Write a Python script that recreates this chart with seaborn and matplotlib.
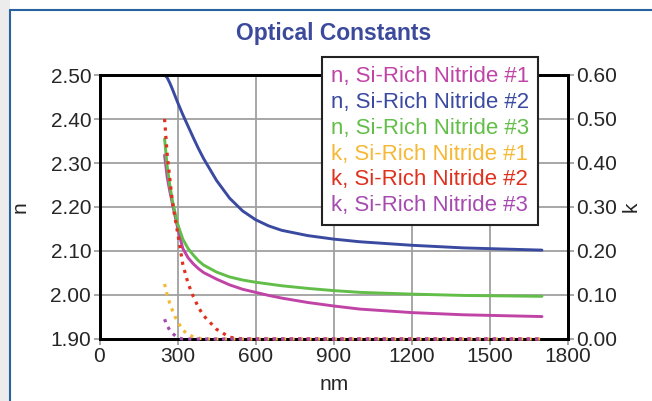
"""
Optical constants (n, k) of Si-rich nitride films
"""

import matplotlib.pyplot as plt
from matplotlib.lines import Line2D
from matplotlib.patches import Rectangle
import seaborn as sns

sns.set_style('ticks')
plt.rcParams['font.family'] = ['Liberation Sans', 'DejaVu Sans']

# wavelength (nm)
wl = [250, 260, 270, 280, 290, 300, 320, 340, 360, 380, 400, 450, 500, 550,
      600, 650, 700, 800, 900, 1000, 1200, 1400, 1700]

# refractive index n
n1 = [2.318, 2.268, 2.236, 2.208, 2.180, 2.153, 2.106, 2.085, 2.071, 2.060, 2.051,
      2.036, 2.023, 2.013, 2.006, 1.999, 1.993, 1.983, 1.975, 1.968, 1.960, 1.955, 1.951]
n2 = [2.500, 2.494, 2.482, 2.468, 2.453, 2.438, 2.410, 2.384, 2.358, 2.333, 2.310,
      2.260, 2.220, 2.191, 2.171, 2.157, 2.147, 2.135, 2.127, 2.121, 2.113, 2.107, 2.102]
n3 = [2.355, 2.293, 2.250, 2.215, 2.188, 2.162, 2.127, 2.106, 2.091, 2.078, 2.068,
      2.052, 2.041, 2.034, 2.029, 2.025, 2.021, 2.015, 2.010, 2.006, 2.002, 1.999, 1.997]

# extinction coefficient k
k1 = [0.125, 0.100, 0.081, 0.065, 0.051, 0.040, 0.020, 0.011, 0.005, 0.002, 0.0,
      0.0, 0.0, 0.0, 0.0, 0.0, 0.0, 0.0, 0.0, 0.0, 0.0, 0.0, 0.0]
k2 = [0.500, 0.420, 0.365, 0.312, 0.276, 0.242, 0.170, 0.127, 0.097, 0.072, 0.053,
      0.022, 0.004, 0.0, 0.0, 0.0, 0.0, 0.0, 0.0, 0.0, 0.0, 0.0, 0.0]
k3 = [0.045, 0.030, 0.020, 0.013, 0.008, 0.003, 0.0, 0.0, 0.0, 0.0, 0.0,
      0.0, 0.0, 0.0, 0.0, 0.0, 0.0, 0.0, 0.0, 0.0, 0.0, 0.0, 0.0]

labels = ['n, Si-Rich Nitride #1', 'n, Si-Rich Nitride #2', 'n, Si-Rich Nitride #3',
          'k, Si-Rich Nitride #1', 'k, Si-Rich Nitride #2', 'k, Si-Rich Nitride #3']
colors = ['#c044a6', '#3a4aa0', '#62be48', '#f6b935', '#e0301e', '#a64ab0']

xticks = [0, 300, 600, 900, 1200, 1500, 1800]
nticks = [1.90, 2.00, 2.10, 2.20, 2.30, 2.40, 2.50]
kticks = [0.0, 0.1, 0.2, 0.3, 0.4, 0.5, 0.6]

fig = plt.figure(figsize=(6.52, 4.01), dpi=100)

# screenshot window frame
fig.add_artist(Rectangle((0, 0), 10/652, 1, transform=fig.transFigure,
                         facecolor='#ececec', edgecolor='none', zorder=0))
fig.add_artist(Line2D([10/652, 10/652], [0, 1 - 10/401], transform=fig.transFigure,
                      color='#2a62a0', lw=1.5))
fig.add_artist(Line2D([10/652, 1], [1 - 10/401, 1 - 10/401], transform=fig.transFigure,
                      color='#2a62a0', lw=1.5))

ax = fig.add_axes([99.5/652, 1 - 339/401, 468.5/652, 264/401])
ax2 = ax.twinx()

for y, c in zip([n1, n2, n3], colors[:3]):
    sns.lineplot(x=wl, y=y, ax=ax, color=c, lw=2.1)
for y, c in zip([k1, k2, k3], colors[3:]):
    sns.lineplot(x=wl, y=y, ax=ax2, color=c, lw=2.3, linestyle=':', clip_on=False, zorder=5)

ax.set_xlim(0, 1800)
ax.set_ylim(1.90, 2.50)
ax2.set_ylim(0, 0.60)
ax.set_xticks(xticks)
ax.set_yticks(nticks)
ax.set_yticklabels([f'{v:.2f}' for v in nticks])
ax2.set_yticks(kticks)
ax2.set_yticklabels([f'{v:.2f}' for v in kticks])

ax.grid(True, color='#a0a0a0', lw=1.3)
for a in (ax, ax2):
    for s in a.spines.values():
        s.set_linewidth(2)
        s.set_color('black')
    a.tick_params(labelsize=15, length=4, width=1.3, color='#a0a0a0', pad=2)

ax.set_xlabel('nm', fontsize=15, labelpad=6.5)
ax.set_ylabel('n', fontsize=15, labelpad=15)
ax2.set_ylabel('k', fontsize=15, labelpad=3)

ax.set_title('Optical Constants', fontsize=16.5, fontweight='bold', color='#3c4a9c', pad=25.5)

handles = [Line2D([], [], color=c, lw=0) for c in colors]
leg = ax2.legend(handles, labels, loc='upper right', bbox_to_anchor=(0.936, 1.068),
                 fontsize=16, handlelength=0, handletextpad=0, labelspacing=0.22,
                 frameon=True, fancybox=False, framealpha=1, borderpad=0.4,
                 borderaxespad=0)
leg.get_frame().set_edgecolor('#222222')
leg.get_frame().set_linewidth(1.5)
for t, c in zip(leg.get_texts(), colors):
    t.set_color(c)
leg.set_zorder(10)

plt.savefig('out.png', dpi=100)
